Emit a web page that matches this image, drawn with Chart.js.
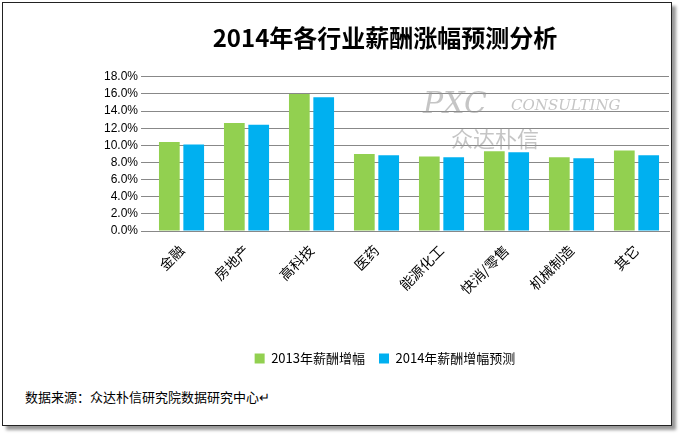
<!DOCTYPE html>
<html><head><meta charset="utf-8">
<script src="https://cdn.jsdelivr.net/npm/chart.js@4"></script>
<style>
body{margin:0;background:#fff}
#box{position:absolute;left:2px;top:2px;width:668px;height:422px;border:1px solid #222;box-shadow:4px 4px 3px #999;background:#fff}
#wrap{position:absolute;left:0;top:0;width:668px;height:372px}
#src{position:absolute;left:22px;top:384px;font:13px "Noto Sans CJK SC";color:#000}
</style></head><body>
<div id="box"><div id="wrap"><canvas id="c"></canvas></div>
<div id="src">数据来源：众达朴信研究院数据研究中心↵</div></div>
<script>
// 数据
var categories = ['金融','房地产','高科技','医药','能源化工','快消/零售','机械制造','其它'];
var rise2013 = [10.4, 12.6, 16.0, 9.0, 8.7, 9.3, 8.6, 9.4];
var forecast2014 = [10.1, 12.4, 15.6, 8.85, 8.6, 9.2, 8.5, 8.85];

// 水印
var watermark = {
  id: 'watermark',
  afterDatasetsDraw: function (chart) {
    var ctx = chart.ctx;
    ctx.save();
    ctx.fillStyle = 'rgba(150,150,150,0.55)';
    ctx.font = 'italic 30px "DejaVu Serif"';
    ctx.fillText('PXC', 420, 102);
    ctx.font = 'italic 15px "DejaVu Serif"';
    ctx.fillText('CONSULTING', 508, 103);
    ctx.font = '22px "Noto Sans CJK SC"';
    ctx.fillText('众达朴信', 448, 136);
    ctx.restore();
  }
};

new Chart(document.getElementById('c'), {
  type: 'bar',
  data: {
    labels: categories,
    datasets: [
      {label: '2013年薪酬增幅', data: rise2013, backgroundColor: '#92D050', categoryPercentage: 0.75, barPercentage: 0.85},
      {label: '2014年薪酬增幅预测', data: forecast2014, backgroundColor: '#00B0F0', categoryPercentage: 0.75, barPercentage: 0.85}
    ]
  },
  options: {
    responsive: true, maintainAspectRatio: false, animation: false,
    layout: {padding: {left: 98, right: 2, top: 0, bottom: 0}},
    plugins: {
      title: {display: true, text: '2014年各行业薪酬涨幅预测分析', color: '#000',
        font: {size: 24, weight: 'bold', family: '"Noto Sans CJK SC"'}, padding: {top: 20, bottom: 25}},
      legend: {position: 'bottom', labels: {boxWidth: 10, boxHeight: 10, color: '#000',
        font: {size: 13, family: '"Noto Sans CJK SC"'}, padding: 14}},
      tooltip: {enabled: false}
    },
    scales: {
      x: {grid: {display: false}, border: {color: '#888'},
        afterFit: function (s) { s.height = 107; },
        ticks: {color: '#000', maxRotation: 45, minRotation: 45, autoSkip: false, font: {size: 14, family: '"Noto Sans CJK SC"'}}},
      y: {min: 0, max: 18, border: {display: false},
        grid: {color: '#888'},
        ticks: {stepSize: 2, autoSkip: false, color: '#000', font: {size: 12, family: 'Liberation Sans'},
          callback: function (v) { return v.toFixed(1) + '%'; }}}
    }
  },
  plugins: [watermark]
});
</script>
</body></html>
